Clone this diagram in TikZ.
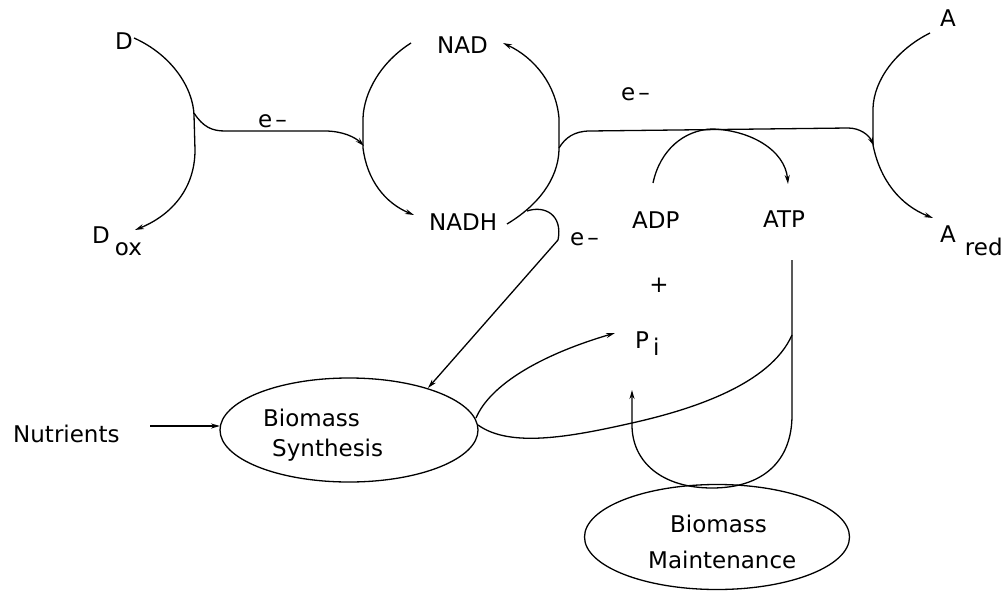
\documentclass[tikz,border=0pt]{standalone}
\usepackage{fontspec}
\setmainfont{DejaVu Sans}
\usetikzlibrary{arrows.meta,shapes.geometric}
\begin{document}
\begin{tikzpicture}[x=1pt,y=-1pt,
  lbl/.style={font=\fontsize{23}{26}\selectfont, inner sep=0pt, anchor=base west},
  flow/.style={line width=1.3pt},
  arr/.style={flow,-{Stealth[length=9pt,width=5pt]}},
  blob/.style={draw,ellipse,line width=1.3pt,inner sep=0pt}]
\useasboundingbox (0,0) rectangle (1006,594);
% labels
\node[lbl] (D) at (115,50) {D};
\node[lbl] (Dox) at (92,243) {D\kern5pt\raisebox{-12pt}{ox}};
\node[lbl] (NAD) at (437,54) {NAD};
\node[lbl] (NADH) at (429,230) {NADH};
\node[lbl] (A) at (940,27) {A};
\node[lbl] (Ared) at (940,242) {A\kern9pt\raisebox{-13pt}{red}};
\node[lbl] (ADP) at (632,228) {ADP};
\node[lbl] (ATP) at (763,227) {ATP};
\node[lbl,anchor=center] (plus) at (659,285) {+};
\node[lbl] (Pi) at (635,348) {P\kern4pt\raisebox{-7pt}{i}};
\node[lbl] (e1) at (258,127) {e\kern3pt–};
\node[lbl] (e2) at (621,100) {e\kern3pt–};
\node[lbl] (e3) at (570,245) {e\kern3pt–};
\node[lbl] (Nut) at (13,442) {Nutrients};
\node[blob, minimum width=258pt, minimum height=104pt] (synth) at (349,430) {};
\node[lbl] (s1) at (263,426) {Biomass};
\node[lbl] (s2) at (272,456) {Synthesis};
\node[blob, minimum width=265pt, minimum height=105pt] (maint) at (717,537) {};
\node[lbl] (m1) at (670,532) {Biomass};
\node[lbl] (m2) at (648,568) {Maintenance};
% key points
\coordinate (dTop) at (134,38);
\coordinate (dJ) at (194,113);
\coordinate (dEnd) at (135,230);
\coordinate (nadL) at (411,43);
\coordinate (nadJL) at (364,146);
\coordinate (nadhL) at (414,215);
\coordinate (nadhR) at (507,224);
\coordinate (nadR) at (503,43);
\coordinate (nadJR) at (559,148);
\coordinate (nadhJ) at (527,211);
\coordinate (aTop) at (930,33);
\coordinate (aJ) at (874,146);
\coordinate (aEnd) at (933,218);
\coordinate (adpS) at (653,183);
\coordinate (atpE) at (788,184);
\coordinate (atpS) at (792,260);
\coordinate (atpJ) at (792,335);
\coordinate (piUp) at (632,390);
\coordinate (piIn) at (615,333);
\coordinate (synNE) at (428,388);
\coordinate (synE) at (476,418);
\coordinate (synE2) at (478,425);
\coordinate (nutE) at (150,426);
\coordinate (synW) at (220,426);
% D couple
\draw[arr] (dTop) .. controls (172,55) and (193,88) .. (194,115) -- (195,150) .. controls (195,188) and (172,215) .. (dEnd);
\draw[arr] (dJ) .. controls (203,127) and (212,131) .. (225,131) -- (325,131) .. controls (342,131) and (355,137) .. (nadJL);
% NAD cycle
\draw[arr] (nadL) .. controls (381,62) and (364,92) .. (363,118) -- (363,148) .. controls (367,180) and (385,203) .. (nadhL);
\draw[arr] (nadhR) .. controls (537,206) and (558,180) .. (559,150) -- (559,118) .. controls (556,85) and (535,58) .. (nadR);
\draw[arr] (nadJR) .. controls (565,138) and (574,131) .. (590,131) -- (848,128) .. controls (860,128) and (869,135) .. (aJ);
% acceptor
\draw[arr] (aTop) .. controls (896,50) and (874,80) .. (873,108) -- (873,145) .. controls (880,180) and (900,205) .. (aEnd);
% ATP formation
\draw[arr] (adpS) .. controls (660,150) and (684,130) .. (712,129) .. controls (750,130) and (785,150) .. (atpE);
% NADH to synthesis
\draw[arr] (nadhJ) .. controls (545,205) and (563,215) .. (558,240) -- (synNE);
% nutrients
\draw[arr] (nutE) -- (synW);
% synthesis to Pi
\draw[arr] (synE) .. controls (490,385) and (540,355) .. (piIn);
% ATP to synthesis
\draw[flow] (atpJ) .. controls (770,385) and (690,410) .. (632,423) .. controls (570,437) and (510,448) .. (synE2);
% ATP to maintenance and back
\draw[arr] (atpS) -- (792,415) .. controls (792,462) and (762,488) .. (712,488) .. controls (662,488) and (632,462) .. (632,425) -- (piUp);
\end{tikzpicture}
\end{document}
